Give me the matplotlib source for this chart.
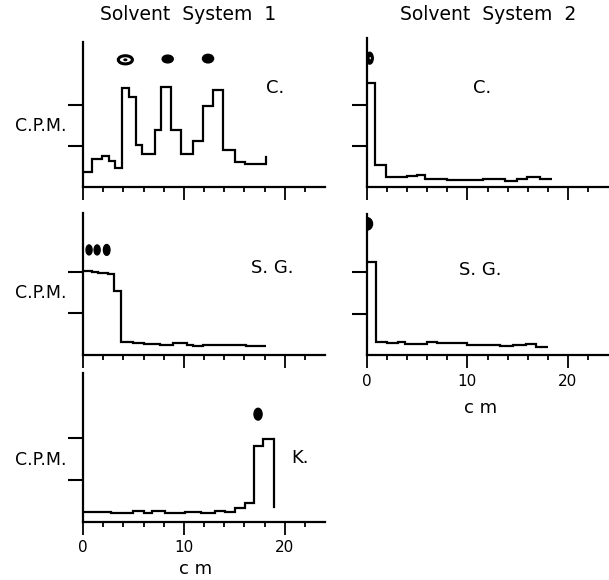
import matplotlib
matplotlib.use('Agg')
import matplotlib.pyplot as plt
from matplotlib.patches import Ellipse

W, H = 609, 580

# ---- data (x in cm, y in C.P.M. tick units) ----
# solvent system 1, C.
c1_edges = [0, 0.9, 1.9, 2.6, 3.2, 3.9, 4.6, 5.3, 5.9, 7.1, 7.7, 8.7, 9.7,
            10.9, 11.9, 12.9, 13.9, 15.1, 16.1, 18.1]
c1_cpm = [0.37, 0.67, 0.75, 0.64, 0.45, 2.43, 2.21, 1.02, 0.80, 1.39, 2.45,
          1.39, 0.80, 1.11, 1.99, 2.38, 0.90, 0.61, 0.56]
c1_tail = 0.72
c1_spot_x = [4.2, 8.4, 12.4]
c1_spot_y = [3.11, 3.13, 3.14]
c1_spot_w = [1.4, 1.1, 1.1]
c1_spot_h = [0.20, 0.19, 0.21]

# solvent system 1, S.G.
sg1_edges = [0, 0.9, 1.5, 2.5, 3.1, 3.8, 5.0, 6.0, 7.6, 8.9, 10.3, 10.9,
             11.9, 12.9, 14.9, 16.2, 18.1]
sg1_cpm = [2.02, 1.99, 1.96, 1.94, 1.53, 0.30, 0.28, 0.26, 0.24, 0.28, 0.23,
           0.20, 0.24, 0.22, 0.23, 0.20]
sg1_tail = 0.20
sg1_spot_x = [0.6, 1.4, 2.35]
sg1_spot_y = [2.52, 2.52, 2.52]
sg1_spot_w = [0.6, 0.6, 0.65]
sg1_spot_h = [0.24, 0.24, 0.26]

# solvent system 1, K.
k1_edges = [0, 2.8, 3.5, 5.0, 6.0, 6.8, 8.1, 10.1, 11.75, 13.1, 14.1, 15.05,
            16.1, 17.0, 17.85, 18.9]
k1_cpm = [0.24, 0.20, 0.21, 0.25, 0.21, 0.25, 0.20, 0.24, 0.21, 0.25, 0.23,
          0.32, 0.44, 1.81, 1.96]
k1_tail = 0.36
k1_spot_x = [17.36]
k1_spot_y = [2.56]
k1_spot_w = [0.8]
k1_spot_h = [0.28]

# solvent system 2, C.
c2_edges = [0, 0.83, 1.92, 3.98, 4.97, 5.8, 7.96, 11.6, 13.76, 14.9, 15.9,
            17.2, 18.4]
c2_cpm = [2.54, 0.53, 0.25, 0.27, 0.29, 0.20, 0.16, 0.20, 0.15, 0.18, 0.25,
          0.20]
c2_tail = 0.20
c2_spot_x = [0.27]
c2_spot_y = [3.15]
c2_spot_w = [0.7]
c2_spot_h = [0.29]

# solvent system 2, S.G.
sg2_edges = [0, 0.9, 1.96, 3.12, 3.78, 5.94, 6.93, 9.25, 9.92, 11.58, 13.23,
             14.56, 15.88, 16.87, 18.03]
sg2_cpm = [2.23, 0.32, 0.28, 0.32, 0.27, 0.32, 0.28, 0.30, 0.24, 0.25, 0.22,
           0.23, 0.27, 0.20]
sg2_tail = 0.20
sg2_spot_x = [0.0]
sg2_spot_y = [3.16]
sg2_spot_w = [1.1]
sg2_spot_h = [0.30]

x_ticks = [0, 2, 4, 6, 8, 10, 12, 14, 16, 18, 20, 22]
x_major = [0, 10, 20]
y_ticks = [1, 2]

plt.rcParams['font.family'] = ['DejaVu Sans']

fig = plt.figure(figsize=(W / 100, H / 100), dpi=100)


def px_axes(left, right, top, bottom):
    return fig.add_axes([left / W, 1 - bottom / H, (right - left) / W,
                         (bottom - top) / H])


def panel(left, right, top, bottom, unit, edges, cpm, tail,
          sx, sy, sw, sh, labels=False, hollow_first=False, ring=False):
    ax = px_axes(left, right, top, bottom)
    ax.set_xlim(0, 24)
    ax.set_ylim(0, (bottom - top) / unit)
    for s in ['top', 'right']:
        ax.spines[s].set_visible(False)
    for s in ['left', 'bottom']:
        ax.spines[s].set_linewidth(1.6)
    ax.stairs(cpm, edges, baseline=None, color='black', linewidth=1.6)
    ax.plot([edges[-1], edges[-1]], [cpm[-1], tail], color='black',
            linewidth=1.6)
    for i in range(len(sx)):
        if hollow_first and i == 0:
            ax.add_patch(Ellipse((sx[i], sy[i]), sw[i], sh[i], facecolor='white',
                                 edgecolor='black', linewidth=2.2))
            ax.add_patch(Ellipse((sx[i], sy[i]), sw[i] * 0.3, sh[i] * 0.35,
                                 facecolor='black', edgecolor='none'))
        else:
            ax.add_patch(Ellipse((sx[i], sy[i]), sw[i], sh[i], facecolor='black',
                                 edgecolor='black', linewidth=1))
            if ring:
                ax.add_patch(Ellipse((sx[i] + 0.05, sy[i]), sw[i] * 0.18,
                                     sh[i] * 0.2, facecolor='white',
                                     edgecolor='none'))
    ax.set_xticks(x_ticks)
    ax.set_yticks(y_ticks)
    ax.tick_params(axis='y', direction='out', length=10.8, width=1.5,
                   labelleft=False)
    ax.tick_params(axis='x', direction='out', length=3.6, width=1.3,
                   labelbottom=False)
    for t, v in zip(ax.xaxis.get_major_ticks(), x_ticks):
        if v in x_major:
            t.tick1line.set_markersize(9.4)
    if labels:
        ax2 = ax.secondary_xaxis('bottom')
        ax2.set_xticks(x_major)
        ax2.set_xticklabels([str(v) for v in x_major])
        ax2.tick_params(length=9.4, width=0, pad=4, labelsize=11)
        ax2.spines['bottom'].set_visible(False)
    return ax


L0, L1 = 83, 325
R0, R1 = 367, 608
panel(L0, L1, 42, 186.7, 40.8, c1_edges, c1_cpm, c1_tail,
      c1_spot_x, c1_spot_y, c1_spot_w, c1_spot_h, hollow_first=True)
panel(L0, L1, 212.5, 354.5, 41.5, sg1_edges, sg1_cpm, sg1_tail,
      sg1_spot_x, sg1_spot_y, sg1_spot_w, sg1_spot_h)
panel(L0, L1, 373, 521.7, 42.0, k1_edges, k1_cpm, k1_tail,
      k1_spot_x, k1_spot_y, k1_spot_w, k1_spot_h, labels=True)
panel(R0, R1, 38, 186.7, 40.8, c2_edges, c2_cpm, c2_tail,
      c2_spot_x, c2_spot_y, c2_spot_w, c2_spot_h, ring=True)
panel(R0, R1, 214, 355, 41.5, sg2_edges, sg2_cpm, sg2_tail,
      sg2_spot_x, sg2_spot_y, sg2_spot_w, sg2_spot_h, labels=True)


def ftext(x, y, s, size, **kw):
    fig.text(x / W, 1 - y / H, s, fontsize=size, ha='center', va='center', **kw)


ftext(188, 15, 'Solvent  System  1', 13.5)
ftext(488, 15, 'Solvent  System  2', 13.5)
for yy in [126, 293, 460]:
    ftext(41, yy, 'C.P.M.', 12.5)
ftext(275, 88, 'C.', 13)
ftext(482, 88, 'C.', 13)
ftext(272, 268, 'S. G.', 13)
ftext(480, 270, 'S. G.', 13)
ftext(300, 458, 'K.', 13)
ftext(196, 569, 'c m', 13)
ftext(481, 408, 'c m', 13)

fig.savefig('out.png', dpi=100)
